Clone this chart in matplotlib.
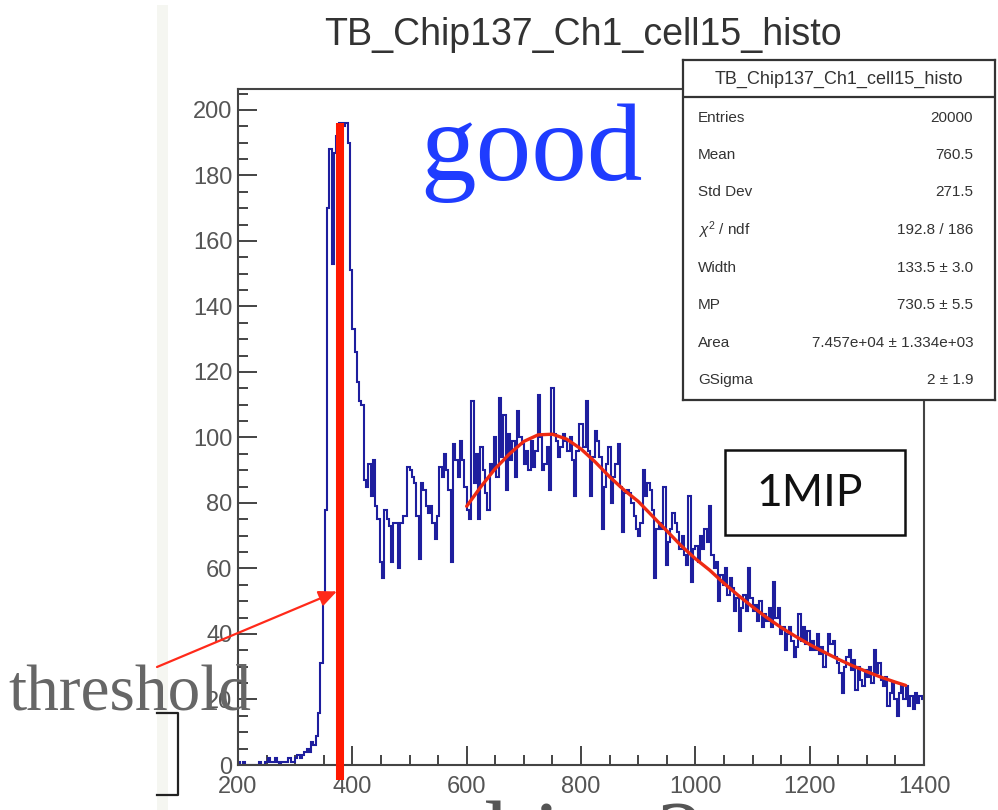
import numpy as np
import matplotlib
matplotlib.use("Agg")
import matplotlib.pyplot as plt
from matplotlib.patches import Rectangle
from matplotlib.lines import Line2D
from matplotlib.ticker import MultipleLocator

plt.rcParams["font.family"] = ["Liberation Sans", "DejaVu Sans"]
plt.rcParams["mathtext.fontset"] = "custom"
plt.rcParams["mathtext.rm"] = "Liberation Sans"
plt.rcParams["mathtext.it"] = "Liberation Sans:italic"

# ---- histogram: ADC counts, 4-unit bins from 200 to 1400 ----
bin_width = 4
x_low, x_high = 200, 1400
counts = [
    1, 0, 1, 0, 0, 0, 0, 0, 0, 1, 0, 0, 1, 2, 1, 1, 2, 1, 0, 1, 1, 1, 2, 1, 1,
    2, 3, 2, 3, 4, 5, 4, 7, 6, 9, 16, 31, 50, 78, 170, 188, 153, 187, 192, 196, 196, 195, 196, 190, 151,
    133, 126, 117, 111, 110, 87, 85, 92, 82, 93, 79, 75, 62, 57, 78, 75, 73, 62, 74, 74, 60, 74, 76, 76, 91,
    90, 88, 86, 76, 63, 86, 84, 79, 77, 79, 74, 69, 76, 91, 88, 95, 90, 84, 62, 98, 93, 88, 99, 93, 85,
    78, 75, 111, 86, 95, 75, 97, 90, 83, 78, 92, 90, 100, 88, 112, 94, 107, 84, 101, 93, 99, 88, 108, 100, 98,
    92, 96, 90, 99, 91, 96, 113, 100, 90, 92, 97, 84, 115, 101, 99, 94, 97, 101, 99, 96, 100, 93, 82, 96, 104,
    104, 97, 111, 96, 82, 94, 102, 99, 94, 72, 85, 92, 97, 80, 88, 92, 98, 85, 71, 83, 84, 83, 80, 76, 72,
    70, 74, 90, 82, 86, 84, 78, 57, 72, 74, 72, 85, 61, 68, 72, 77, 74, 71, 66, 70, 64, 61, 82, 56, 66,
    67, 62, 70, 66, 72, 68, 79, 64, 60, 62, 50, 58, 55, 60, 52, 57, 54, 47, 51, 41, 48, 52, 47, 60, 51,
    47, 49, 44, 50, 42, 46, 44, 48, 42, 56, 45, 48, 40, 42, 35, 40, 42, 38, 33, 36, 46, 38, 42, 37, 41,
    35, 38, 35, 40, 34, 36, 30, 34, 40, 37, 38, 33, 31, 28, 22, 30, 33, 35, 29, 32, 23, 30, 26, 24, 29,
    27, 30, 25, 35, 28, 31, 26, 24, 27, 18, 22, 25, 20, 15, 22, 24, 20, 24, 18, 21, 17, 22, 19, 21, 20,
]

# ---- Landau (x) Gauss fit curve ----
fit_x = [600, 625, 650, 675, 700, 725, 750, 775, 800, 825, 850, 875, 900, 925, 950, 975,
         1000, 1025, 1050, 1075, 1100, 1125, 1150, 1175, 1200, 1225, 1250, 1275, 1300,
         1325, 1350, 1368]
fit_y = [79, 85, 90.5, 95, 98.8, 100.8, 101, 99.5, 96.5, 92.5, 88, 84, 80.5, 76, 71.5, 67,
         63, 59.5, 55.5, 51.8, 48.3, 45, 42, 39.3, 36.8, 34.5, 32.3, 30.3, 28.5,
         26.8, 25.3, 24.3]

threshold = 378
threshold_arrow_y = 53

hist_title = "TB_Chip137_Ch1_cell15_histo"
stat_labels = ["Entries", "Mean", "Std Dev", r"$\chi^{2}$ / ndf", "Width", "MP", "Area", "GSigma"]
stat_values = ["20000", "760.5", "271.5", "192.8 / 186", "133.5 \u00b1 3.0",
               "730.5 \u00b1 5.5", "7.457e+04 \u00b1 1.334e+03", "2 \u00b1 1.9"]

W, H = 998, 810


def fx(px):
    return px / W


def fy(py):
    return 1 - py / H


fig = plt.figure(figsize=(W / 100, H / 100), dpi=100)
fig.patch.set_facecolor("white")

# pale edge strip of the pasted plot
fig.add_artist(Rectangle((fx(157), 0), fx(168) - fx(157), fy(5), transform=fig.transFigure,
                         facecolor="#f5f6f1", edgecolor="none", zorder=0))

ax = fig.add_axes([fx(238), fy(765), fx(924) - fx(238), fy(89) - fy(765)])
edges = np.arange(x_low, x_high + bin_width, bin_width)
ax.stairs(counts, edges, color="#1e1e9e", lw=1.5, zorder=2)
ax.plot(fit_x, fit_y, color="#ee2a12", lw=2.4, zorder=3, solid_capstyle="round",
        solid_joinstyle="round")
ax.plot([threshold, threshold], [-4.5, max(counts)], color="#ff1800", lw=5.8, zorder=4,
        clip_on=False, solid_capstyle="butt")

ax.set_xlim(x_low, x_high)
ax.set_ylim(0, 206.4)
ax.xaxis.set_major_locator(MultipleLocator(200))
ax.xaxis.set_minor_locator(MultipleLocator(50))
ax.yaxis.set_major_locator(MultipleLocator(20))
ax.yaxis.set_minor_locator(MultipleLocator(5))
ax.tick_params(which="both", direction="in", color="#444", width=1.4)
ax.tick_params(which="major", length=14)
ax.tick_params(which="minor", length=7.5)
ax.tick_params(axis="y", labelsize=17, labelcolor="#555", pad=4)
ax.tick_params(axis="x", labelsize=17, labelcolor="#555", pad=8)
for s in ax.spines.values():
    s.set_color("#444")
    s.set_linewidth(1.5)

# arrow pointing at the threshold
ax.annotate("", xy=(threshold - 5, threshold_arrow_y), xycoords="data",
            xytext=(fx(157), fy(667)), textcoords="figure fraction",
            arrowprops=dict(arrowstyle="-|>,head_length=0.9,head_width=0.4", color="#ff2a1a",
                            lw=1.6, shrinkA=0, shrinkB=0, mutation_scale=12),
            annotation_clip=False, zorder=5)

# title
fig.text(fx(583), fy(35), hist_title, ha="center", va="center", fontsize=27, color="#333")

# statistics box
sax = fig.add_axes([fx(683), fy(400), fx(995) - fx(683), fy(60) - fy(400)])
sax.set_zorder(5)
sax.set_xlim(0, 1)
sax.set_ylim(0, 1)
sax.set_xticks([])
sax.set_yticks([])
for s in sax.spines.values():
    s.set_color("#333")
    s.set_linewidth(1.6)
sax.axhline((400 - 97) / 340, color="#333", lw=1.6)
sax.text(0.5, (400 - 79) / 340, hist_title, ha="center", va="center", fontsize=13, color="#333")
row_px = [118, 155, 192, 230, 268, 305, 343, 380]
for py, lab, val in zip(row_px, stat_labels, stat_values):
    yy = (400 - py) / 340
    sax.text(0.048, yy, lab, ha="left", va="center", fontsize=11, color="#333")
    sax.text(0.93, yy, val, ha="right", va="center", fontsize=11, color="#333")

# 1MIP label box
fig.add_artist(Rectangle((fx(725), fy(535)), fx(905) - fx(725), fy(450) - fy(535),
                         transform=fig.transFigure, facecolor="white", edgecolor="#111",
                         lw=1.8, zorder=6))
fig.text(fx(810), fy(493), "1MIP", ha="center", va="center", fontsize=32,
         family=["Lato", "DejaVu Sans"], color="#111", zorder=7)

# slide annotations
fig.text(fx(420), fy(180), "good", fontsize=80, color="#1f3cff",
         family=["Liberation Serif", "DejaVu Serif"], va="baseline", zorder=8)
fig.text(fx(8), fy(710), "threshold", fontsize=47, color="#666",
         family=["Liberation Serif", "DejaVu Serif"], va="baseline", zorder=8)
fig.text(fx(485), fy(868), "hing?", fontsize=70, color="#555",
         family=["Liberation Serif", "DejaVu Serif"], va="baseline", zorder=8)
fig.add_artist(Line2D([fx(157), fx(178), fx(178), fx(157)],
                      [fy(713), fy(713), fy(795), fy(795)],
                      transform=fig.transFigure, color="#222", lw=1.6))

fig.savefig("out.png", dpi=100)
